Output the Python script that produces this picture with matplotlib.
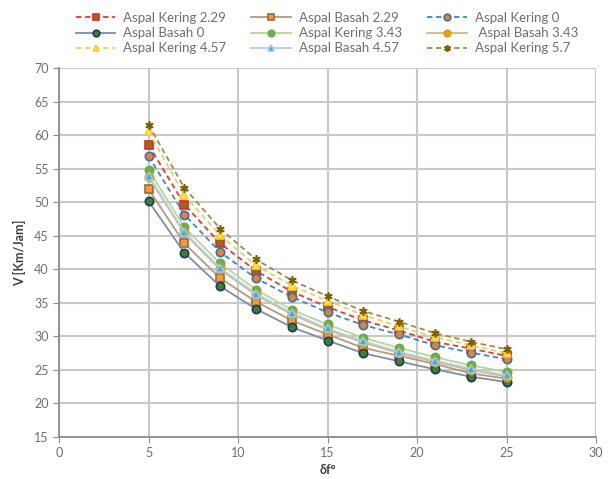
import matplotlib
matplotlib.use("Agg")
import matplotlib.pyplot as plt

plt.rcParams['font.family'] = ['Lato', 'DejaVu Sans']

# data
df = [5, 7, 9, 11, 13, 15, 17, 19, 21, 23, 25]

kering_229 = [58.6, 49.7, 43.9, 39.8, 36.7, 34.4, 32.4, 30.9, 29.2, 28.2, 27.1]
basah_229 = [52.0, 43.9, 38.7, 35.2, 32.4, 30.3, 28.3, 27.1, 25.9, 24.5, 23.7]
kering_0 = [56.9, 48.2, 42.6, 38.7, 35.9, 33.6, 31.7, 30.3, 28.7, 27.6, 26.6]
basah_0 = [50.2, 42.5, 37.5, 34.1, 31.4, 29.4, 27.5, 26.3, 25.1, 24.0, 23.2]
kering_343 = [54.9, 46.3, 40.9, 37.0, 34.0, 31.8, 29.8, 28.3, 26.9, 25.7, 24.7]
basah_343 = [53.8, 45.4, 40.0, 36.2, 33.3, 31.0, 29.1, 27.5, 26.2, 25.0, 24.0]
kering_457 = [60.6, 51.1, 45.1, 40.6, 37.6, 35.3, 33.2, 31.5, 29.9, 28.7, 27.5]
basah_457 = [54.0, 45.6, 40.2, 36.4, 33.5, 31.2, 29.3, 27.7, 26.4, 25.2, 24.2]
kering_57 = [61.6, 52.2, 46.1, 41.5, 38.4, 36.0, 33.8, 32.2, 30.5, 29.2, 28.1]

labels = ['Aspal Kering 2.29', 'Aspal Basah 2.29', 'Aspal Kering 0',
          'Aspal Basah 0', 'Aspal Kering 3.43', ' Aspal Basah 3.43',
          'Aspal Kering 4.57', 'Aspal Basah 4.57', 'Aspal Kering 5.7']
series = [kering_229, basah_229, kering_0, basah_0, kering_343, basah_343,
          kering_457, basah_457, kering_57]

# style per series: line colour, dashed?, marker, face, edge
styles = [
    ('#E8392E', True, 's', '#9A6A1C', '#E8251F'),
    ('#B59A7C', False, 's', '#F79646', '#9C6B30'),
    ('#3E86C8', True, 'o', '#ED7D31', '#2E75B6'),
    ('#7F8BA8', False, 'o', '#3F7F2E', '#1F3864'),
    ('#B5D69C', False, 'o', '#70AD47', '#70AD47'),
    ('#CDB98A', False, 'o', '#E0A800', '#D4A017'),
    ('#D8D66A', True, '^', '#FFF200', '#F2C94C'),
    ('#B4CFDD', False, '^', '#2FB0D6', '#9DC3E6'),
    ('#A08850', True, (6, 2, 0), '#7F6000', '#7F6000'),
]

fig = plt.figure(figsize=(6.11, 4.79), dpi=100)
ax = fig.add_axes([0.0966, 0.0877, 0.879, 0.7693])

handles = []
for vals, lab, st in zip(series, labels, styles):
    col, dashed, mk, fc, ec = st
    h, = ax.plot(df, vals, color=col, lw=1.3,
                 linestyle=(0, (3, 2)) if dashed else '-',
                 marker=mk, markersize=6, markerfacecolor=fc,
                 markeredgecolor=ec, markeredgewidth=1.2, label=lab)
    handles.append(h)

ax.set_xlim(0, 30)
ax.set_ylim(15, 70)
ax.set_xticks(range(0, 31, 5))
ax.set_yticks(range(15, 71, 5))
ax.grid(True, color='#C8C8C8', lw=1.5)
ax.set_axisbelow(True)
for s in ['top', 'right']:
    ax.spines[s].set_visible(False)
for s in ['left', 'bottom']:
    ax.spines[s].set_color('#8C8C8C')
    ax.spines[s].set_linewidth(1.3)
ax.tick_params(colors='#8C8C8C', labelcolor='#6E6E6E', labelsize=9, length=4)

ax.set_xlabel('δf°', color='#404040', fontsize=9, fontweight='bold', labelpad=3)
ax.set_ylabel('V [Km/Jam]', color='#404040', fontsize=9, fontweight='bold', labelpad=6)

# matplotlib fills legend columns first, reorder to read row-wise
order = [0, 3, 6, 1, 4, 7, 2, 5, 8]
fig.legend([handles[i] for i in order], [labels[i] for i in order],
           loc='upper center', bbox_to_anchor=(0.535, 1.0), ncol=3,
           frameon=False, fontsize=9.5, labelcolor='#6E6E6E',
           handlelength=3.0, handletextpad=0.6, columnspacing=1.9,
           labelspacing=0.25, markerscale=0.8)

fig.savefig('out.png', dpi=100)
